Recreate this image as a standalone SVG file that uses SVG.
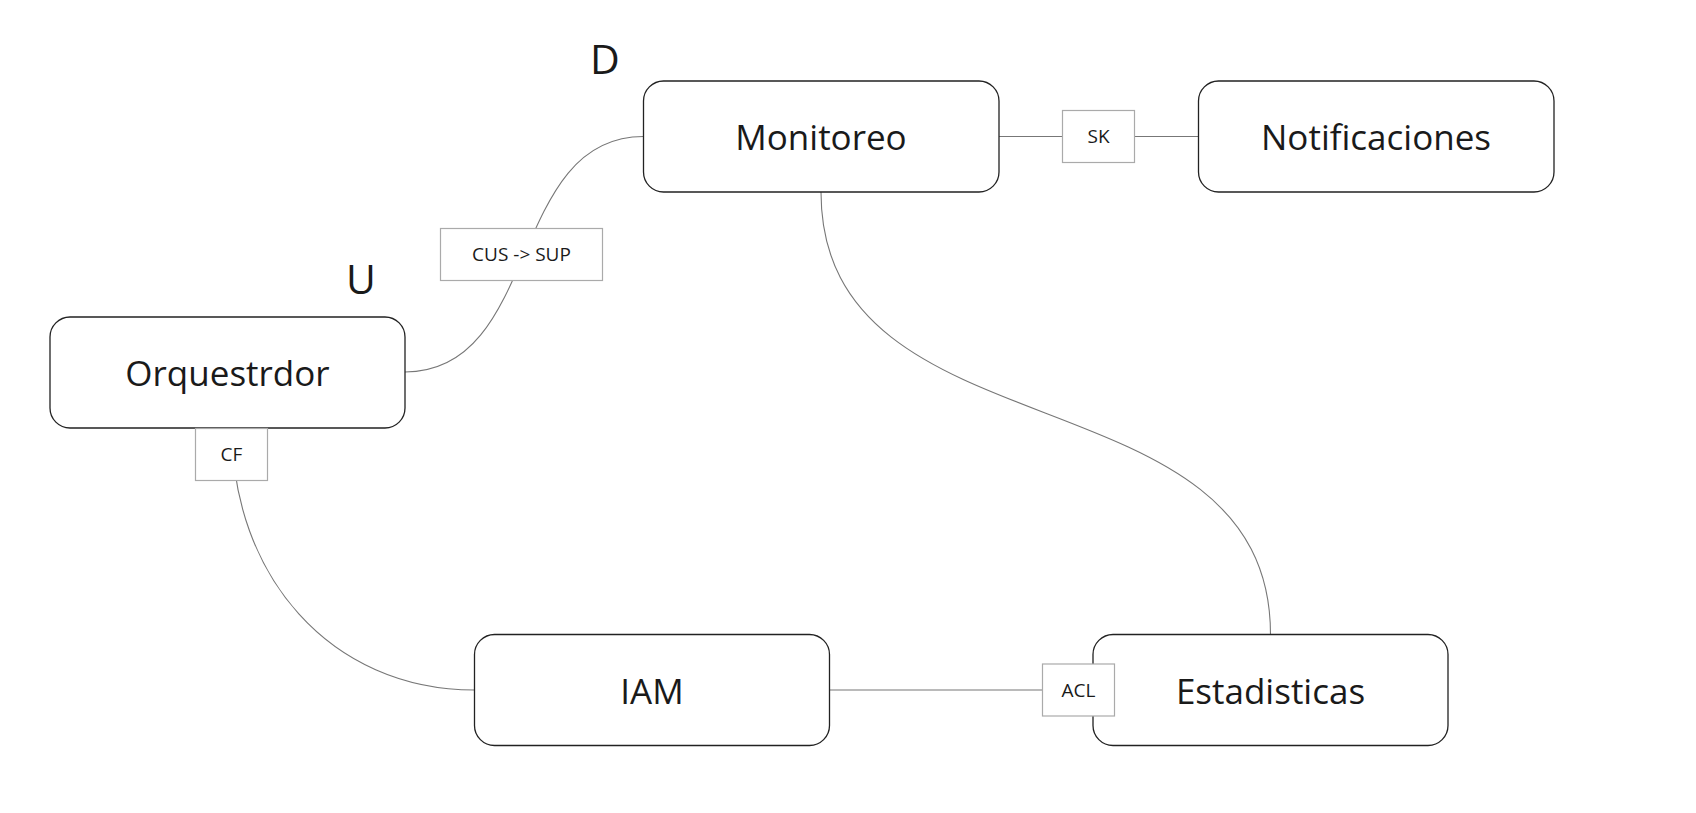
<svg xmlns="http://www.w3.org/2000/svg" width="1696" height="813" viewBox="0 0 1696 813">
<style>
.node rect{fill:#fff;stroke:#222;stroke-width:1.3}
.node text{font-family:"Open Sans","Noto Sans",sans-serif;font-size:35px;fill:#1a1a1a;text-anchor:middle}
.lbl rect{fill:#fff;stroke:#aaa;stroke-width:1.2}
.lbl text{font-family:"Open Sans","Noto Sans",sans-serif;font-size:19px;fill:#1a1a1a;text-anchor:middle}
.edge{fill:none;stroke:#777;stroke-width:1.1}
.big{font-family:"Open Sans","Noto Sans",sans-serif;font-size:41px;fill:#1a1a1a}
</style>
<rect width="1696" height="813" fill="#fff"/>
<g id="connectors">
<path class="edge" d="M405,372 C541,372 507.5,136.5 643.5,136.5"/>
<path class="edge" d="M999,136.5 L1198.5,136.5"/>
<path class="edge" d="M821,192 C821,462 1270.5,364.5 1270.5,634.5"/>
<path class="edge" d="M232,428 C232,575 330,690 474.5,690"/>
<path class="edge" d="M829.5,690 L1093,690"/>
</g>
<g id="monitoreo" class="node"><rect x="643.5" y="81" width="355.5" height="111" rx="20"/><text x="821" y="150">Monitoreo</text></g>
<g id="notificaciones" class="node"><rect x="1198.5" y="81" width="355.5" height="111" rx="20"/><text x="1376" y="150">Notificaciones</text></g>
<g id="orquestrdor" class="node"><rect x="50" y="317" width="355" height="111" rx="20"/><text x="227.5" y="386">Orquestrdor</text></g>
<g id="iam" class="node"><rect x="474.5" y="634.5" width="355" height="111" rx="20"/><text x="652" y="703.5">IAM</text></g>
<g id="estadisticas" class="node"><rect x="1093" y="634.5" width="355" height="111" rx="20"/><text x="1270.5" y="703.5">Estadisticas</text></g>
<g id="label-cus-sup" class="lbl"><rect x="440.5" y="228.5" width="162" height="52"/><text x="521.5" y="261">CUS -&gt; SUP</text></g>
<g id="label-sk" class="lbl"><rect x="1062.5" y="110.5" width="72" height="52"/><text x="1098.5" y="143">SK</text></g>
<g id="label-cf" class="lbl"><rect x="195.5" y="428.5" width="72" height="52"/><text x="231.5" y="461">CF</text></g>
<g id="label-acl" class="lbl"><rect x="1042.5" y="664" width="72" height="52"/><text x="1078.5" y="696.5">ACL</text></g>
<g id="marker-d"><text class="big" x="590" y="74">D</text></g>
<g id="marker-u"><text class="big" x="346" y="293.5">U</text></g>
</svg>
